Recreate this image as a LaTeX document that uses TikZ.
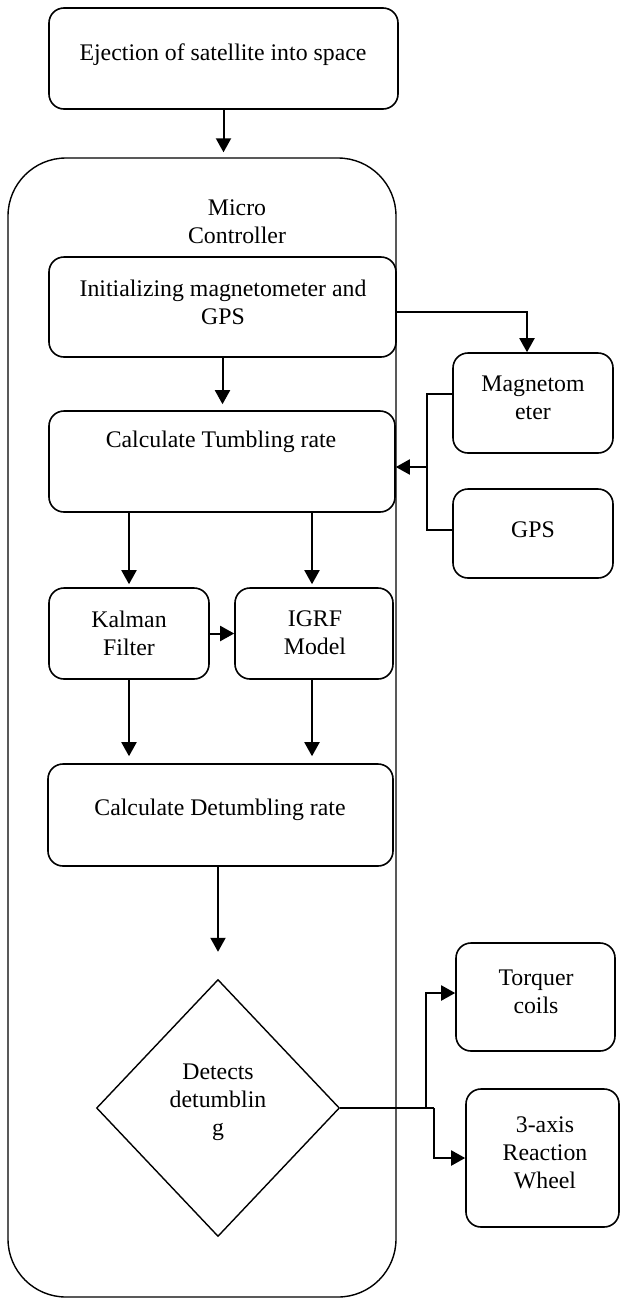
\documentclass[tikz,border=0pt]{standalone}
\usepackage{fontspec}
\setmainfont{Liberation Serif}
\usetikzlibrary{arrows.meta,shapes.geometric}

\begin{document}
\begin{tikzpicture}[x=1pt,y=-1pt,
    every node/.style={font=\fontsize{23.8}{28}\selectfont},
    block/.style={draw,line width=1.6pt,rounded corners=15pt,inner sep=0pt},
    words/.style={align=center,inner sep=0pt},
    flow/.style={line width=2pt,-{Triangle[width=15pt,length=14pt]}},
    wire/.style={line width=2pt}]
  \useasboundingbox (0,0) rectangle (621,1299);

  % outer controller frame
  \node[draw,line width=1.4pt,rounded corners=58pt,minimum width=388pt,minimum height=1139pt,inner sep=0pt] (mc) at (202,727.5) {};
  \node[words] (mctext) at (237,222) {Micro\\Controller};

  % boxes
  \node[block,minimum width=349pt,minimum height=101pt] (eject) at (223.5,58.5) {};
  \node[words] (ejecttext) at (223,55) {Ejection of satellite into space};

  \node[block,minimum width=347pt,minimum height=100pt] (init) at (222.5,307) {};
  \node[words] (inittext) at (223,302) {Initializing magnetometer and\\GPS};

  \node[block,minimum width=346pt,minimum height=101pt] (tumb) at (222,461.5) {};
  \node[words] (tumbtext) at (221,442) {Calculate Tumbling rate};

  \node[block,minimum width=160pt,minimum height=91pt] (kal) at (129,633.5) {};
  \node[words] (kaltext) at (129,633) {Kalman\\Filter};

  \node[block,minimum width=158pt,minimum height=91pt] (igrf) at (314,633.5) {};
  \node[words] (igrftext) at (315,633) {IGRF\\Model};

  \node[block,minimum width=345pt,minimum height=102pt] (detumb) at (220.5,815) {};
  \node[words] (detumbtext) at (220,810) {Calculate Detumbling rate};

  \node[draw,diamond,line width=1.4pt,minimum width=243pt,minimum height=257pt,inner sep=0pt] (detect) at (218,1108) {};
  \node[words] (dettext) at (218,1102) {Detects\\detumblin\\g};

  % sensors
  \node[block,minimum width=160pt,minimum height=100pt] (mag) at (533,403) {};
  \node[words] (magtext) at (533,398) {Magnetom\\eter};

  \node[block,minimum width=160pt,minimum height=89pt] (gps) at (533,533.5) {};
  \node[words] (gpstext) at (533,530) {GPS};

  % actuators
  \node[block,minimum width=159pt,minimum height=108pt] (torq) at (535.5,997) {};
  \node[words] (torqtext) at (536,992) {Torquer\\coils};

  \node[block,minimum width=153pt,minimum height=138pt] (wheel) at (542.5,1158) {};
  \node[words] (wheeltext) at (545,1153) {3-axis\\Reaction\\Wheel};

  % connectors
  \draw[flow,shorten >=5pt] (eject.south) -- (eject.south |- mc.north);
  \draw[flow,shorten >=6pt] (init.south) -- (init.south |- tumb.north);
  \draw[flow] ([yshift=-5pt]init.east) -| ([xshift=-6pt]mag.north);

  \coordinate (join) at (427,467);
  \draw[wire] ([yshift=9pt]mag.west) -| (join) |- ([yshift=3.5pt]gps.west);
  \draw[flow] (join) -- (join -| tumb.east);

  \draw[flow,shorten >=3pt] (tumb.south -| kal.north) -- (kal.north);
  \draw[flow,shorten >=3pt] ([xshift=-2pt]tumb.south -| igrf.north) -- ([xshift=-2pt]igrf.north);
  \draw[flow] (kal) -- (igrf);
  \draw[flow,shorten >=7pt] (kal.south) -- (kal.south |- detumb.north);
  \draw[flow,shorten >=7pt] ([xshift=-2pt]igrf.south) -- ([xshift=-2pt]igrf.south |- detumb.north);
  \draw[flow,shorten >=27pt] (detect.north |- detumb.south) -- (detect.north);

  \coordinate (split) at (426,1108);
  \coordinate (split2) at (434,1108);
  \draw[wire] (detect.east) -- (split2);
  \draw[flow] (split) |- ([yshift=4pt]torq.west);
  \draw[flow] (split2) |- (wheel.west);
\end{tikzpicture}
\end{document}
